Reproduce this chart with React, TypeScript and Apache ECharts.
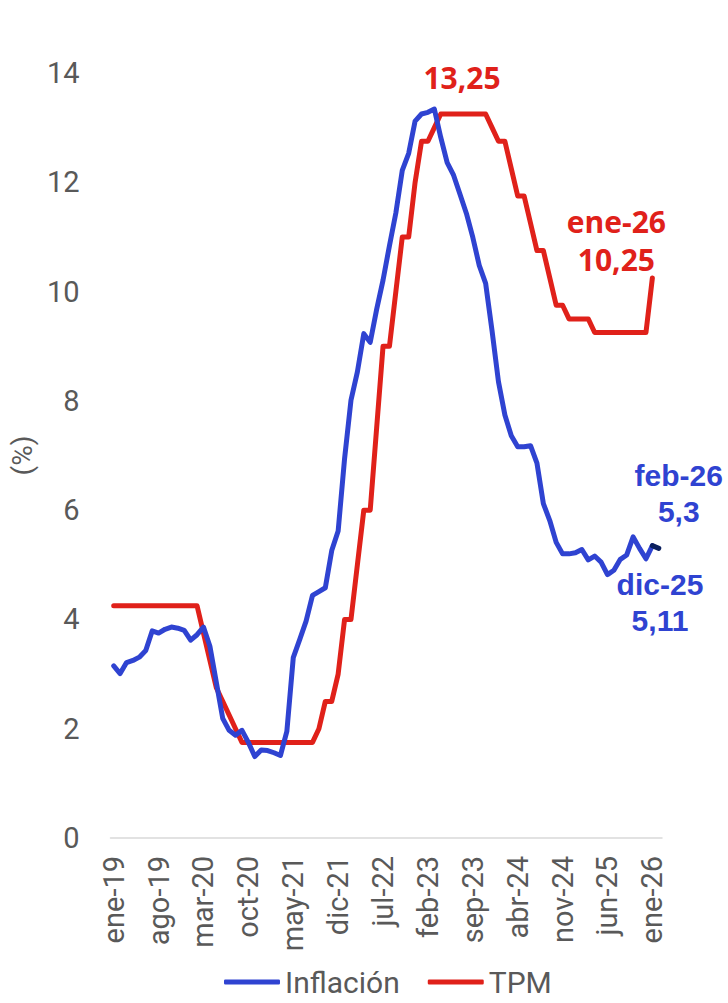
import React, { useEffect, useRef } from "react";
import * as echarts from "echarts";

const MONTHS = ["ene", "feb", "mar", "abr", "may", "jun", "jul", "ago", "sep", "oct", "nov", "dic"];
const YEARS = ["19", "20", "21", "22", "23", "24", "25", "26"];
const categories: string[] = [];
YEARS.forEach((y) => MONTHS.forEach((m) => categories.push(`${m}-${y}`)));
categories.splice(86); // ene-19 .. feb-26

const inflacion: (number | null)[] = [
  3.15, 3.01, 3.21, 3.25, 3.31, 3.43, 3.79, 3.75, 3.82, 3.86, 3.84, 3.8,
  3.62, 3.72, 3.86, 3.51, 2.85, 2.19, 1.97, 1.88, 1.97, 1.75, 1.49, 1.61,
  1.6, 1.56, 1.51, 1.95, 3.3, 3.63, 3.97, 4.44, 4.51, 4.58, 5.26, 5.62,
  6.94, 8.01, 8.53, 9.23, 9.07, 9.67, 10.21, 10.84, 11.44, 12.22, 12.53, 13.12,
  13.25, 13.28, 13.34, 12.82, 12.36, 12.13, 11.78, 11.43, 10.99, 10.48, 10.15, 9.28,
  8.35, 7.74, 7.36, 7.16, 7.16, 7.18, 6.86, 6.12, 5.81, 5.41, 5.2, 5.2,
  5.22, 5.28, 5.09, 5.16, 5.05, 4.82, 4.9, 5.1, 5.18, 5.51, 5.3, 5.11,
  5.35, null,
];

const inflacionUltima: (number | null)[] = [
  ...new Array(84).fill(null),
  5.35, 5.3,
];

const tpm: (number | null)[] = [
  4.25, 4.25, 4.25, 4.25, 4.25, 4.25, 4.25, 4.25, 4.25, 4.25, 4.25, 4.25,
  4.25, 4.25, 3.75, 3.25, 2.75, 2.5, 2.25, 2.0, 1.75, 1.75, 1.75, 1.75,
  1.75, 1.75, 1.75, 1.75, 1.75, 1.75, 1.75, 1.75, 2.0, 2.5, 2.5, 3.0,
  4.0, 4.0, 5.0, 6.0, 6.0, 7.5, 9.0, 9.0, 10.0, 11.0, 11.0, 12.0,
  12.75, 12.75, 13.0, 13.25, 13.25, 13.25, 13.25, 13.25, 13.25, 13.25, 13.25, 13.0,
  12.75, 12.75, 12.25, 11.75, 11.75, 11.25, 10.75, 10.75, 10.25, 9.75, 9.75, 9.5,
  9.5, 9.5, 9.5, 9.25, 9.25, 9.25, 9.25, 9.25, 9.25, 9.25, 9.25, 9.25,
  10.25, null,
];

const yTicks = [0, 2, 4, 6, 8, 10, 12, 14];

const BLUE = "#2f43d1";
const RED = "#e0211a";
const DARK = "#0b1f5e";
const GRAY = "#595959";

export default function App() {
  const ref = useRef<HTMLDivElement>(null);
  useEffect(() => {
    if (!ref.current) return;
    const chart = echarts.init(ref.current, undefined, { renderer: "svg" });
    const redLabel = {
      color: RED,
      fontFamily: "Open Sans",
      fontWeight: "bold" as const,
      fontSize: 30,
      lineHeight: 38,
      align: "center" as const,
      verticalAlign: "middle" as const,
    };
    const blueLabel = {
      color: BLUE,
      fontFamily: "Liberation Sans",
      fontWeight: "bold" as const,
      fontSize: 30,
      lineHeight: 36,
      align: "center" as const,
      verticalAlign: "middle" as const,
    };
    chart.setOption({
      animation: false,
      backgroundColor: "#ffffff",
      grid: { left: 99, right: 66, top: 73, bottom: 165, containLabel: false },
      legend: {
        data: ["Inflación", "TPM"],
        top: 962,
        left: 219,
        icon: "roundRect",
        itemWidth: 56,
        itemHeight: 5,
        itemGap: 28,
        textStyle: { color: GRAY, fontFamily: "Roboto", fontSize: 30 },
      },
      xAxis: {
        type: "category",
        data: categories,
        boundaryGap: true,
        axisLine: { lineStyle: { color: "#d9d9d9", width: 1.5 } },
        axisTick: { show: false },
        axisLabel: {
          interval: 6,
          rotate: 90,
          color: GRAY,
          fontFamily: "Roboto",
          fontSize: 29,
          margin: 18,
        },
        splitLine: { show: false },
      },
      yAxis: {
        type: "value",
        min: yTicks[0],
        max: yTicks[yTicks.length - 1],
        interval: 2,
        name: "(%)",
        nameLocation: "middle",
        nameGap: 54,
        nameRotate: 90,
        nameTextStyle: { color: GRAY, fontFamily: "Roboto", fontSize: 28 },
        axisLine: { show: false },
        axisTick: { show: false },
        splitLine: { show: false },
        axisLabel: { color: GRAY, fontFamily: "Roboto", fontSize: 29, margin: 31 },
      },
      series: [
        {
          name: "Inflación",
          type: "line",
          data: inflacion,
          showSymbol: false,
          symbol: "none",
          color: BLUE,
          lineStyle: { color: BLUE, width: 5, cap: "round", join: "round" },
          z: 3,
          markPoint: {
            symbol: "circle",
            symbolSize: 0,
            silent: true,
            data: [
              {
                coord: ["dic-25", 5.11],
                label: { show: true, formatter: "dic-25\n5,11", offset: [14, 44], ...blueLabel },
              },
            ],
          },
        },
        {
          name: "Inflación (últ.)",
          type: "line",
          data: inflacionUltima,
          showSymbol: false,
          symbol: "none",
          color: DARK,
          lineStyle: { color: DARK, width: 5, cap: "round", join: "round" },
          z: 4,
          markPoint: {
            symbol: "circle",
            symbolSize: 0,
            silent: true,
            data: [
              {
                coord: ["feb-26", 5.3],
                label: { show: true, formatter: "feb-26\n5,3", offset: [20, -55], ...blueLabel },
              },
            ],
          },
        },
        {
          name: "TPM",
          type: "line",
          data: tpm,
          showSymbol: false,
          symbol: "none",
          color: RED,
          lineStyle: { color: RED, width: 5, cap: "round", join: "round" },
          z: 2,
          markPoint: {
            symbol: "circle",
            symbolSize: 0,
            silent: true,
            data: [
              {
                coord: ["jul-23", 13.25],
                label: { show: true, formatter: "13,25", offset: [2, -36], ...redLabel },
              },
              {
                coord: ["ene-26", 10.25],
                label: { show: true, formatter: "ene-26\n10,25", offset: [-36, -37], ...redLabel },
              },
            ],
          },
        },
      ],
    });
    return () => chart.dispose();
  }, []);
  return <div ref={ref} style={{ width: 728, height: 1003, position: "absolute", left: 0, top: 0 }} />;
}
